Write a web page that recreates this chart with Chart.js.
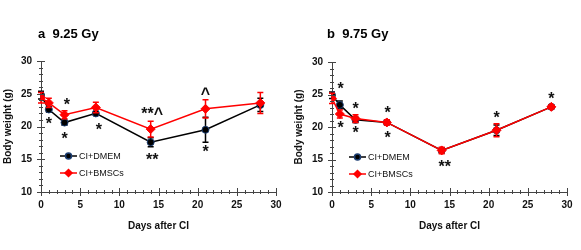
<!DOCTYPE html>
<html>
<head>
<meta charset="utf-8">
<script src="https://cdn.jsdelivr.net/npm/chart.js@4/dist/chart.umd.min.js"></script>
<style>
  body { margin: 0; background: #fff; width: 581px; height: 250px; position: relative; overflow: hidden; }
  .panel { position: absolute; top: 0; width: 290px; height: 250px; }
  .panel canvas { position: absolute; left: 0; top: 0; }
  .ttl { position: absolute; top: 26px; font: bold 13px Arial, "Liberation Sans", sans-serif; color: #000; white-space: pre; }
</style>
</head>
<body>
<div class="panel" style="left:0"><canvas id="chartA" width="290" height="250"></canvas></div>
<div class="panel" style="left:291px"><canvas id="chartB" width="290" height="250"></canvas></div>
<div class="ttl" style="left:38px">a  9.25 Gy</div>
<div class="ttl" style="left:327px">b  9.75 Gy</div>
<script>
const days = [0, 1, 3, 7, 14, 21, 28];
const xTicks = [0, 5, 10, 15, 20, 25, 30];
const yTicks = [10, 15, 20, 25, 30];
const seriesNames = ["CI+DMEM", "CI+BMSCs"];

// panel a, 9.25 Gy
const dmemA = [24.8, 22.6, 20.6, 22.0, 17.6, 19.5, 23.3];
const dmemErrA = [0.6, 0.4, 0.4, 0.3, 0.7, 1.9, 1.0];
const bmscA = [24.4, 23.6, 21.8, 22.9, 19.6, 22.7, 23.6];
const bmscErrA = [0.8, 0.7, 0.6, 0.8, 1.2, 1.4, 1.6];
const marksA = [
  { x: 1, y: 20.7, t: "*" }, { x: 3.3, y: 23.7, t: "*" }, { x: 3, y: 18.4, t: "*" },
  { x: 7.4, y: 19.9, t: "*" }, { x: 14.2, y: 22.2, t: "**^" }, { x: 14.2, y: 15.3, t: "**" },
  { x: 21, y: 25.4, t: "^" }, { x: 21, y: 16.4, t: "*" }
];

// panel b, 9.75 Gy
const dmemB = [24.9, 23.4, 21.1, 20.7, 16.4, 19.5, 23.1];
const dmemErrB = [0.5, 0.6, 0.4, 0.3, 0.4, 0.8, 0.3];
const bmscB = [24.4, 22.0, 21.3, 20.7, 16.4, 19.5, 23.1];
const bmscErrB = [0.8, 0.6, 0.6, 0.4, 0.5, 1.0, 0.3];
const marksB = [
  { x: 1.1, y: 26.2, t: "*" }, { x: 1.1, y: 20.2, t: "*" }, { x: 3, y: 23.2, t: "*" },
  { x: 3, y: 19.5, t: "*" }, { x: 7.1, y: 22.5, t: "*" }, { x: 7.1, y: 18.7, t: "*" },
  { x: 14.4, y: 14.2, t: "**" }, { x: 21, y: 21.7, t: "*" }, { x: 28, y: 24.7, t: "*" }
];

const FONT = "Arial, 'Liberation Sans', sans-serif";
const AXIS = "#444";

const errorBars = {
  id: "errorBars",
  beforeDatasetDraw(chart, args) {
    const ds = chart.data.datasets[args.index];
    if (!ds.err) return;
    const { ctx, scales: { x, y } } = chart;
    ctx.save();
    ctx.strokeStyle = ds.borderColor;
    ctx.lineWidth = 1.5;
    ds.data.forEach((p, i) => {
      const px = x.getPixelForValue(p.x);
      const top = y.getPixelForValue(p.y + ds.err[i]);
      const bot = y.getPixelForValue(p.y - ds.err[i]);
      ctx.beginPath();
      ctx.moveTo(px, top); ctx.lineTo(px, bot);
      ctx.moveTo(px - 3, top); ctx.lineTo(px + 3, top);
      ctx.moveTo(px - 3, bot); ctx.lineTo(px + 3, bot);
      ctx.stroke();
    });
    ctx.restore();
  }
};

const axisTicks = {
  id: "axisTicks",
  afterDraw(chart) {
    const { ctx, chartArea: a, scales: { x, y } } = chart;
    ctx.save();
    ctx.strokeStyle = AXIS;
    ctx.lineWidth = 1;
    ctx.beginPath();
    for (let v = x.min; v <= x.max; v++) {
      const px = Math.round(x.getPixelForValue(v)) + 0.5;
      const h = v % 5 === 0 ? 4 : 2;
      ctx.moveTo(px, a.bottom - h); ctx.lineTo(px, a.bottom + h);
    }
    for (let v = y.min; v <= y.max; v++) {
      const py = Math.round(y.getPixelForValue(v)) + 0.5;
      const h = v % 5 === 0 ? 4 : 2;
      ctx.moveTo(a.left - h, py); ctx.lineTo(a.left + h, py);
    }
    ctx.stroke();
    ctx.restore();
  }
};

const notes = {
  id: "notes",
  afterDatasetsDraw(chart, args, opts) {
    const { ctx, scales: { x, y } } = chart;
    ctx.save();
    ctx.fillStyle = "#111";
    ctx.font = "bold 16px " + FONT;
    ctx.textAlign = "center";
    ctx.textBaseline = "middle";
    (opts.items || []).forEach(m => {
      ctx.fillText(m.t, x.getPixelForValue(m.x), y.getPixelForValue(m.y) + 3);
    });
    // legend
    const lg = opts.legend;
    chart.data.datasets.forEach((ds, i) => {
      const ly = lg.y + i * 17;
      ctx.strokeStyle = ds.borderColor;
      ctx.lineWidth = 1.5;
      ctx.beginPath();
      ctx.moveTo(lg.x, ly); ctx.lineTo(lg.x + 17, ly);
      ctx.stroke();
      ctx.fillStyle = ds.pointBackgroundColor;
      ctx.strokeStyle = ds.pointBorderColor;
      ctx.beginPath();
      if (ds.pointStyle === "rectRot") {
        ctx.moveTo(lg.x + 8.5, ly - 3.5); ctx.lineTo(lg.x + 12, ly);
        ctx.lineTo(lg.x + 8.5, ly + 3.5); ctx.lineTo(lg.x + 5, ly); ctx.closePath();
      } else {
        ctx.arc(lg.x + 8.5, ly, 3, 0, Math.PI * 2);
      }
      ctx.fill(); ctx.stroke();
      ctx.fillStyle = "#111";
      ctx.font = "9px " + FONT;
      ctx.textAlign = "left";
      ctx.fillText(seriesNames[i], lg.x + 19, ly + 0.5);
    });
    ctx.restore();
  }
};

function makeChart(id, dmem, dmemErr, bmsc, bmscErr, items, legend, padTop) {
  const pts = arr => days.map((d, i) => ({ x: d, y: arr[i] }));
  return new Chart(document.getElementById(id), {
    type: "line",
    data: {
      datasets: [
        {
          label: seriesNames[0], data: pts(dmem), err: dmemErr, order: 2,
          borderColor: "#000", borderWidth: 1.5,
          pointStyle: "circle", pointRadius: 3.5,
          pointBackgroundColor: "#000", pointBorderColor: "#1d3f73", pointBorderWidth: 1
        },
        {
          label: seriesNames[1], data: pts(bmsc), err: bmscErr, order: 1,
          borderColor: "#ff0000", borderWidth: 1.5,
          pointStyle: "rectRot", pointRadius: 4.5,
          pointBackgroundColor: "#ff0000", pointBorderColor: "#ff0000", pointBorderWidth: 1
        }
      ]
    },
    options: {
      responsive: false,
      animation: false,
      layout: { padding: { top: padTop, right: 14, bottom: 13, left: 0 } },
      plugins: {
        legend: { display: false },
        tooltip: { enabled: false },
        notes: { items: items, legend: legend }
      },
      scales: {
        x: {
          type: "linear", min: 0, max: 30,
          afterBuildTicks: s => { s.ticks = xTicks.map(v => ({ value: v })); },
          afterFit: s => { s.height = 45; },
          grid: { drawOnChartArea: false, color: "transparent", tickLength: 4 },
          border: { color: AXIS, width: 1 },
          ticks: { color: "#111", padding: 3, font: { family: FONT, size: 10, weight: "bold" } },
          title: { display: true, text: "Days after CI", color: "#111", padding: { top: 0, bottom: 5 },
                   font: { family: FONT, size: 10, weight: "bold" } }
        },
        y: {
          min: 10, max: 30,
          afterBuildTicks: s => { s.ticks = yTicks.map(v => ({ value: v })); },
          afterFit: s => { s.width = 41; },
          grid: { drawOnChartArea: false, color: "transparent", tickLength: 4 },
          border: { color: AXIS, width: 1 },
          ticks: { color: "#111", padding: 5, font: { family: FONT, size: 10, weight: "bold" } },
          title: { display: true, text: "Body weight (g)", color: "#111", padding: { top: 2, bottom: 0 },
                   font: { family: FONT, size: 10, weight: "bold" } }
        }
      }
    },
    plugins: [errorBars, axisTicks, notes]
  });
}

makeChart("chartA", dmemA, dmemErrA, bmscA, bmscErrA, marksA, { x: 60, y: 156 }, 61);
makeChart("chartB", dmemB, dmemErrB, bmscB, bmscErrB, marksB, { x: 58, y: 157 }, 62);
</script>
</body>
</html>
